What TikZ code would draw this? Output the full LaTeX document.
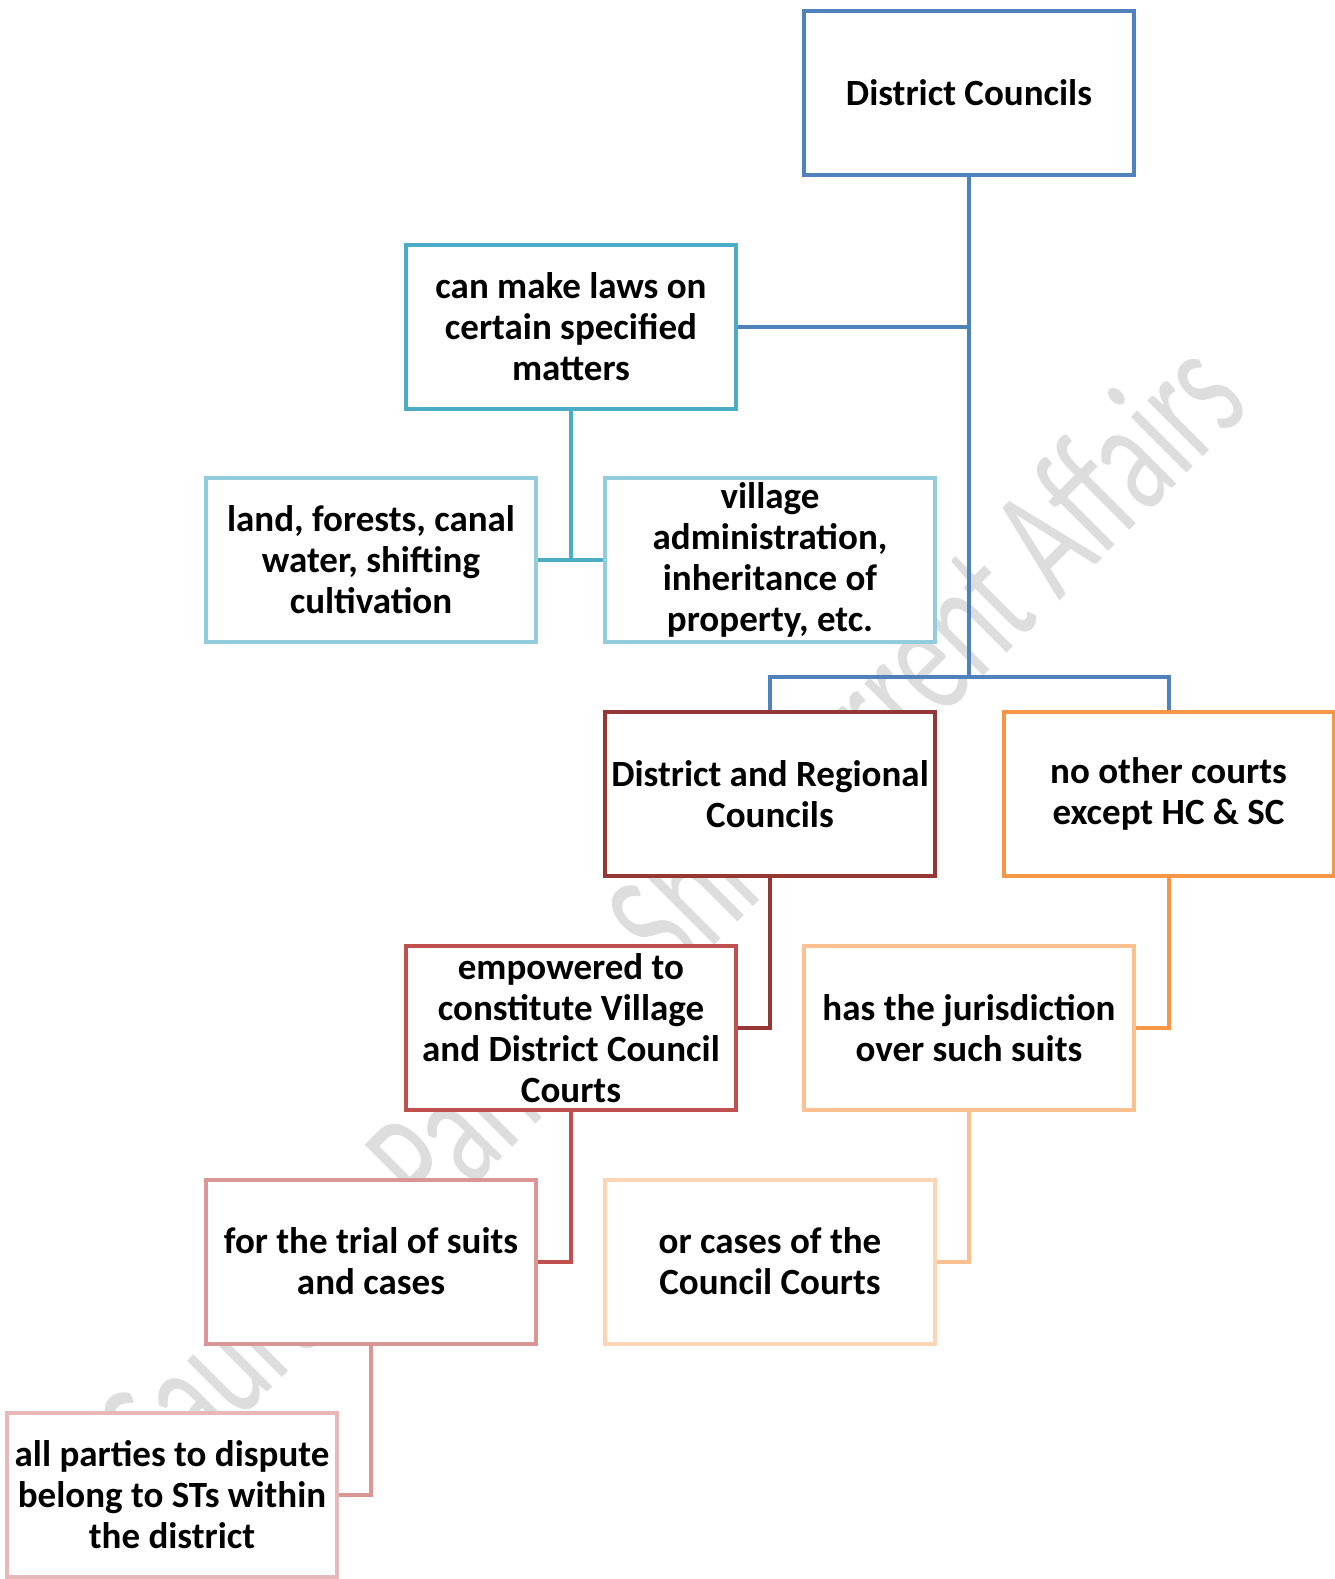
\documentclass[tikz,border=0pt]{standalone}
\usepackage{fontspec}
\usepackage{graphicx}
\setmainfont{Carlito}
\definecolor{cBlue}{HTML}{4F81BD}
\definecolor{cAqua}{HTML}{4BACC6}
\definecolor{cAquaL}{HTML}{93CDDD}
\definecolor{cRedD}{HTML}{953735}
\definecolor{cRed}{HTML}{C0504D}
\definecolor{cRedL}{HTML}{D99694}
\definecolor{cRedLL}{HTML}{E6B9B8}
\definecolor{cOr}{HTML}{F79646}
\definecolor{cOrL}{HTML}{FAC090}
\definecolor{cOrLL}{HTML}{FCD5B5}
\definecolor{cWm}{HTML}{DDDDDD}
\pgfdeclarelayer{wmlayer}
\pgfdeclarelayer{connlayer}
\pgfsetlayers{wmlayer,connlayer,main}
\tikzset{
  box/.style={draw=#1, line width=4pt, fill=white, minimum width=330pt, minimum height=164pt,
    inner sep=0pt, align=center, text=black, font=\fontsize{37}{41}\selectfont\bfseries},
  conn/.style={draw=#1, line width=4pt},
  wmark/.style={text=cWm, inner sep=0pt, font=\fontsize{165}{165}\selectfont}
}
\begin{document}
\begin{tikzpicture}[x=1pt,y=-1pt]
\useasboundingbox (0,0) rectangle (1335,1579);
% boxes
\node[box=cBlue] (dc) at (969,93) {District Councils};
\node[box=cAqua] (laws) at (571,327) {can make laws on\\certain specified\\matters};
\node[box=cAquaL] (land) at (371,560) {land, forests, canal\\water, shifting\\cultivation};
\node[box=cAquaL] (village) at (770,560) {village\\administration,\\inheritance of\\property, etc.};
\node[box=cRedD] (drc) at (770,794) {District and Regional\\Councils};
\node[box=cOr] (noc) at (1168.5,794) {no other courts\\except HC \& SC};
\node[box=cRed] (emp) at (571,1028) {empowered to\\constitute Village\\and District Council\\Courts};
\node[box=cOrL] (jur) at (969,1028) {has the jurisdiction\\over such suits};
\node[box=cRedL] (trial) at (371,1261.5) {for the trial of suits\\and cases};
\node[box=cOrLL] (orc) at (770,1261.5) {or cases of the\\Council Courts};
\node[box=cRedLL] (allp) at (172,1495) {all parties to dispute\\belong to STs within\\the district};
\coordinate (bj) at (969,677);
% watermark
\begin{pgfonlayer}{wmlayer}
\node[wmark, anchor=base east, rotate=45] (wm) at (1253,407)
  {\scalebox{0.645}[1]{Saurabh Pandey Shri Current Affairs}};
\end{pgfonlayer}
% connectors
\begin{pgfonlayer}{connlayer}
\draw[conn=cBlue] (dc.south) -- (bj);
\draw[conn=cBlue] (dc.south |- laws.east) -- (laws.east);
\draw[conn=cBlue] (drc.north) |- (bj) -| (noc.north);
\draw[conn=cAqua] (laws.south) -- (laws.south |- land.east);
\draw[conn=cAqua] (land.east) -- (village.west);
\draw[conn=cRedD] (drc.south) |- (emp.east);
\draw[conn=cRed] (emp.south) |- (trial.east);
\draw[conn=cRedL] (trial.south) |- (allp.east);
\draw[conn=cOr] (noc.south) |- (jur.east);
\draw[conn=cOrL] (jur.south) |- (orc.east);
\end{pgfonlayer}
\end{tikzpicture}
\end{document}
